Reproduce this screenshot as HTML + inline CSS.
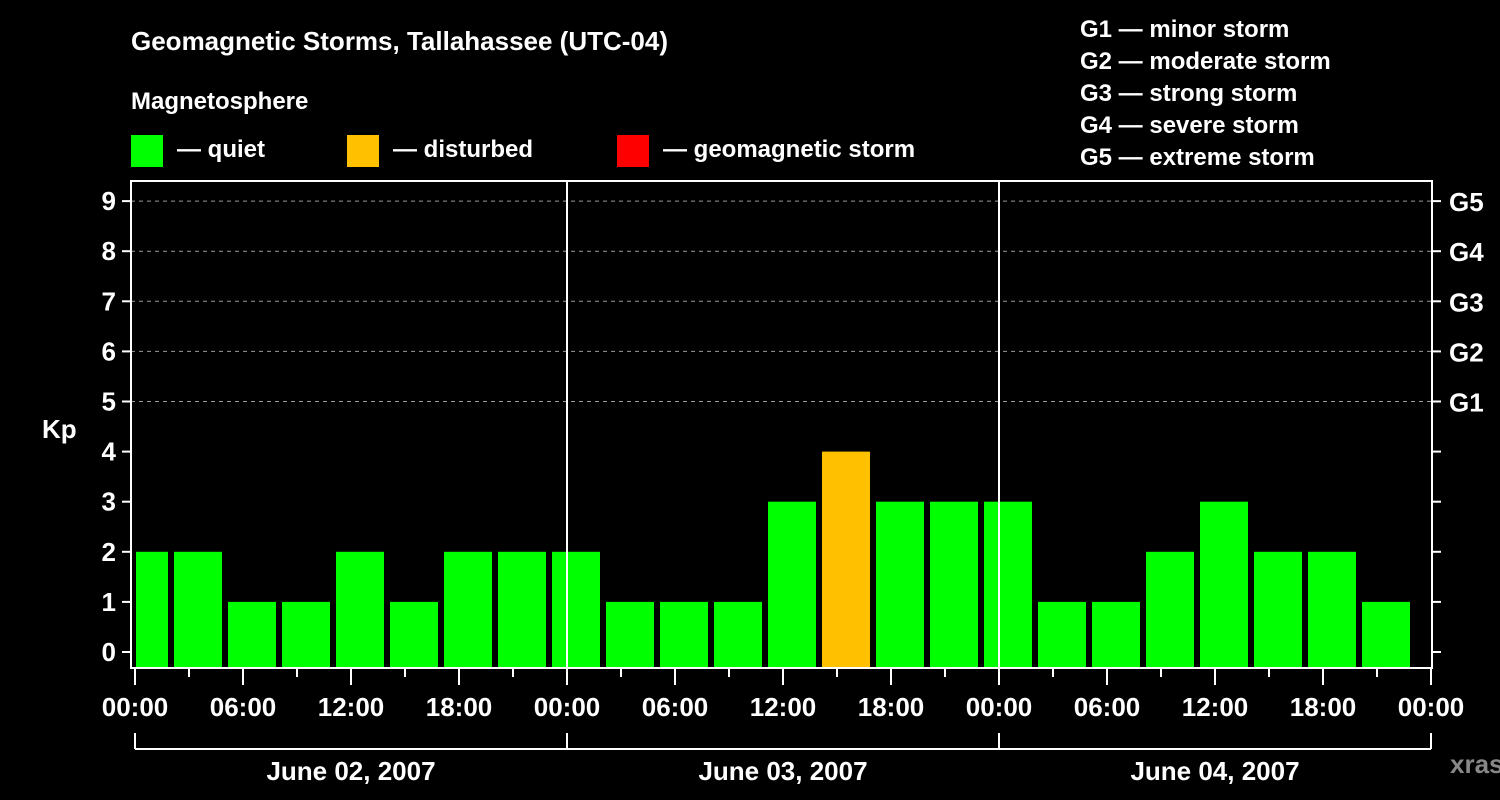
<!DOCTYPE html>
<html><head><meta charset="utf-8"><style>
html,body{margin:0;padding:0;background:#000;}
svg{display:block;font-family:"Liberation Sans",Arial,sans-serif;font-weight:bold;}
</style></head><body>
<svg id="chart" width="1500" height="800" viewBox="0 0 1500 800">
<text x="131" y="50" fill="#fff" font-size="26">Geomagnetic Storms, Tallahassee (UTC-04)</text>
<text x="131" y="109" fill="#fff" font-size="24">Magnetosphere</text>
<g>
<rect x="131" y="135" width="32" height="32" fill="#00ff00"/>
<text x="177" y="157" fill="#fff" font-size="24">— quiet</text>
<rect x="347" y="135" width="32" height="32" fill="#ffc000"/>
<text x="393" y="157" fill="#fff" font-size="24">— disturbed</text>
<rect x="617" y="135" width="32" height="32" fill="#ff0000"/>
<text x="663" y="157" fill="#fff" font-size="24">— geomagnetic storm</text>
</g>
<g fill="#fff" font-size="24">
<text x="1080" y="37">G1 — minor storm</text>
<text x="1080" y="69">G2 — moderate storm</text>
<text x="1080" y="101">G3 — strong storm</text>
<text x="1080" y="133">G4 — severe storm</text>
<text x="1080" y="165">G5 — extreme storm</text>
</g>
<text x="42" y="438" fill="#fff" font-size="26">Kp</text>
<text x="1450" y="773" fill="#888" font-size="26">xras.ru</text>
<g id="plot"></g>
</svg>
<script>
const kpValues=[2,2,1,1,2,1,2,2,2,1,1,1,3,4,3,3,3,1,1,2,3,2,2,1];
const yTicks=[0,1,2,3,4,5,6,7,8,9];
const gLabels=["G1","G2","G3","G4","G5"];
const gLevels=[5,6,7,8,9];
const hourLabels=["00:00","06:00","12:00","18:00"];
const dayLabels=["June 02, 2007","June 03, 2007","June 04, 2007"];

const NS="http://www.w3.org/2000/svg";
const L=131,R=1432,T=181,B=668;
const x0=135,pxHour=18;
const yS=k=>652-50.1*k;
const xS=h=>x0+h*pxHour;
const g=document.getElementById('plot');
function mk(tag,attrs,parent){const e=document.createElementNS(NS,tag);for(const k in attrs)e.setAttribute(k,attrs[k]);(parent||g).appendChild(e);return e;}
// grid
gLevels.forEach((k,i)=>{
 const l=mk('line',{x1:L,x2:R,y1:yS(k),y2:yS(k),stroke:'#999','stroke-dasharray':'4,4','stroke-width':1});
 
 
});
// bars
const barW=48;
kpValues.forEach((v,i)=>{
 let xl=xS(i*3)-15, xr=xl+barW;
 if(xl<L+5) xl=L+5;
 const col=v>=5?'#ff0000':(v>=4?'#ffc000':'#00ff00');
 const r=mk('rect',{x:xl,y:yS(v),width:xr-xl,height:B-yS(v),fill:col});
 
 
});
// day separators
for(let d=1;d<3;d++){
 const l=mk('line',{x1:xS(d*24),x2:xS(d*24),y1:T,y2:B,stroke:'#fff','stroke-width':2});
 
 
}
// frame
const fr=mk('rect',{x:L,y:T,width:R-L,height:B-T,fill:'none',stroke:'#fff','stroke-width':2});


// y ticks
yTicks.forEach(k=>{
 const y=yS(k);
 mk('line',{x1:122,x2:L,y1:y,y2:y,stroke:'#fff','stroke-width':2});
 mk('line',{x1:R,x2:1441,y1:y,y2:y,stroke:'#fff','stroke-width':2});
 const t=mk('text',{x:116,y:y+9,fill:'#fff','font-size':26,'text-anchor':'end'});
 t.textContent=k;
 
 
});
gLabels.forEach((s,i)=>{
 const t=mk('text',{x:1449,y:yS(gLevels[i])+10,fill:'#fff','font-size':26});
 t.textContent=s;
 
 
});
// x ticks
for(let h=0;h<=72;h+=3){
 const major=h%6===0;
 mk('line',{x1:xS(h),x2:xS(h),y1:B,y2:major?685:677,stroke:'#fff','stroke-width':2});
 if(major){
  const t=mk('text',{x:xS(h),y:716,fill:'#fff','font-size':26,'text-anchor':'middle'});
  t.textContent=hourLabels[(h/6)%4];
  
  
 }
}
// day brackets
mk('line',{x1:xS(0),x2:xS(72),y1:749,y2:749,stroke:'#fff','stroke-width':2});
for(let d=0;d<=3;d++) mk('line',{x1:xS(d*24),x2:xS(d*24),y1:733,y2:749,stroke:'#fff','stroke-width':2});
dayLabels.forEach((s,d)=>{
 const t=mk('text',{x:xS(d*24+12),y:780,fill:'#fff','font-size':26,'text-anchor':'middle'});
 t.textContent=s;
 
 
});
</script>
</body></html>
